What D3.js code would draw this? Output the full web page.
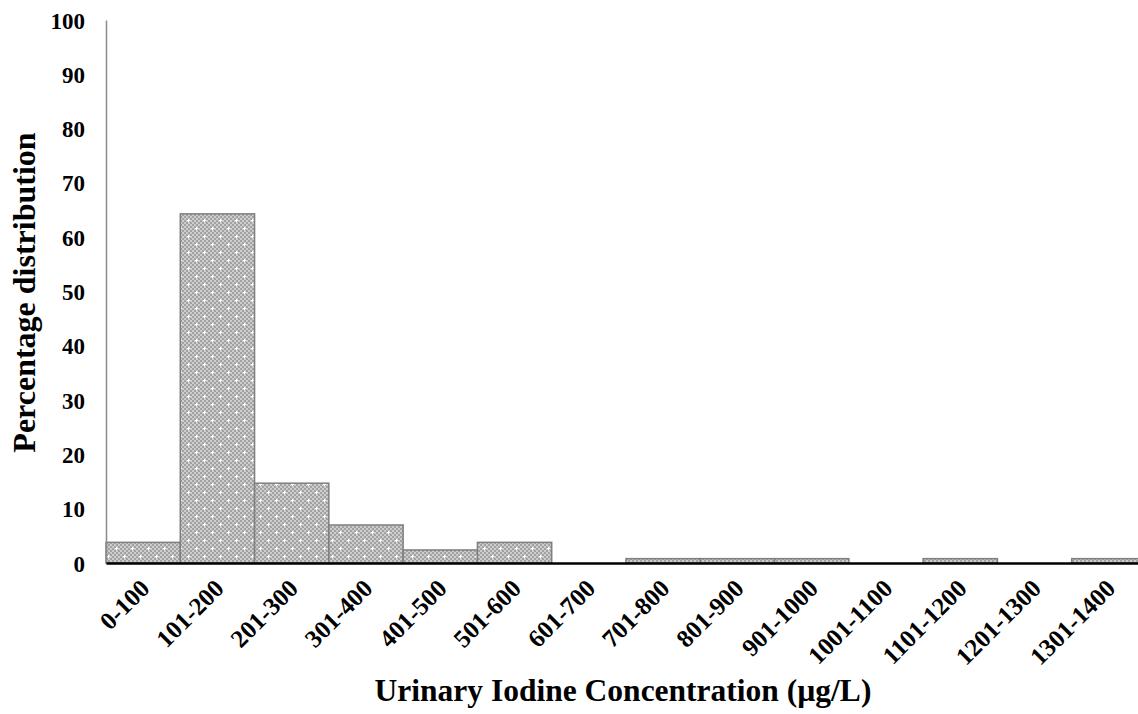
<!DOCTYPE html>
<html>
<head>
  <meta charset="utf-8">
  <script src="https://d3js.org/d3.v7.min.js"></script>
  <style>
    body { margin: 0; background: #fff; }
    text { font-family: "Liberation Serif", "Times New Roman", serif; font-weight: bold; fill: #000; }
  </style>
</head>
<body>
<div id="graph"></div>
<script>
  var categories = ["0-100", "101-200", "201-300", "301-400", "401-500", "501-600", "601-700",
    "701-800", "801-900", "901-1000", "1001-1100", "1101-1200", "1201-1300", "1301-1400"];
  var percents = [3.8, 64.3, 14.7, 7.0, 2.4, 3.8, 0, 0.8, 0.8, 0.8, 0, 0.8, 0, 0.8];
  var yTicks = [0, 10, 20, 30, 40, 50, 60, 70, 80, 90, 100];

  var w = 1138, h = 714;
  var mLeft = 106, mTop = 20, mBottom = 563, mRight = 1146;

  var svg = d3.select("#graph").append("svg")
    .attr("width", w).attr("height", h);

  // grey checker with little white crosses
  var defs = svg.append("defs");
  var pat = defs.append("pattern")
    .attr("id", "dots")
    .attr("patternUnits", "userSpaceOnUse")
    .attr("width", 16).attr("height", 16);
  pat.append("rect").attr("width", 16).attr("height", 16).attr("fill", "#cdcdcd");
  for (var i = 0; i < 16; i += 2) {
    for (var j = 0; j < 16; j += 2) {
      if (((i + j) / 2) % 2 == 0) {
        pat.append("rect").attr("x", i).attr("y", j).attr("width", 2).attr("height", 2).attr("fill", "#a2a2a2");
      }
    }
  }
  [[4, 4], [12, 12]].forEach(function(p) {
    pat.append("rect").attr("x", p[0] - 1).attr("y", p[1]).attr("width", 3).attr("height", 1).attr("fill", "#fff");
    pat.append("rect").attr("x", p[0]).attr("y", p[1] - 1).attr("width", 1).attr("height", 3).attr("fill", "#fff");
  });

  var x = d3.scaleBand().domain(categories).range([mLeft, mRight]).padding(0);
  var y = d3.scaleLinear().domain([0, 100]).range([mBottom, mTop]);

  svg.selectAll("rect.bar")
    .data(percents)
    .enter()
    .append("rect")
    .attr("class", "bar")
    .attr("x", function(d, i) { return x(categories[i]); })
    .attr("y", function(d) { return y(d); })
    .attr("width", x.bandwidth())
    .attr("height", function(d) { return mBottom - y(d); })
    .attr("fill", "url(#dots)")
    .attr("stroke", "#7f7f7f")
    .attr("stroke-width", 1.5)
    .style("display", function(d) { return d > 0 ? null : "none"; });

  // y axis
  var yAxis = svg.append("g")
    .attr("transform", "translate(" + mLeft + ",0)")
    .call(d3.axisLeft(y).tickValues(yTicks).tickSize(0).tickPadding(21));
  yAxis.select(".domain").attr("stroke", "#8c8c8c").attr("stroke-width", 1.5);
  yAxis.selectAll("text").style("font-size", "23px").attr("dy", "0.35em");

  // x axis
  var xAxis = svg.append("g")
    .attr("transform", "translate(0," + mBottom + ")")
    .call(d3.axisBottom(x).tickSize(0).tickPadding(0));
  xAxis.select(".domain").attr("stroke", "#000").attr("stroke-width", 2.5);
  xAxis.selectAll("text")
    .style("font-size", "25px")
    .attr("text-anchor", "end")
    .attr("dy", null)
    .attr("y", 0)
    .attr("transform", "translate(8,27) rotate(-45)");

  svg.append("text")
    .attr("transform", "translate(35," + ((mTop + mBottom) / 2 + 1) + ") rotate(-90)")
    .attr("text-anchor", "middle")
    .style("font-size", "32px")
    .text("Percentage distribution");

  svg.append("text")
    .attr("x", 623)
    .attr("y", 701)
    .attr("text-anchor", "middle")
    .style("font-size", "31.5px")
    .text("Urinary Iodine Concentration (µg/L)");
</script>
</body>
</html>
